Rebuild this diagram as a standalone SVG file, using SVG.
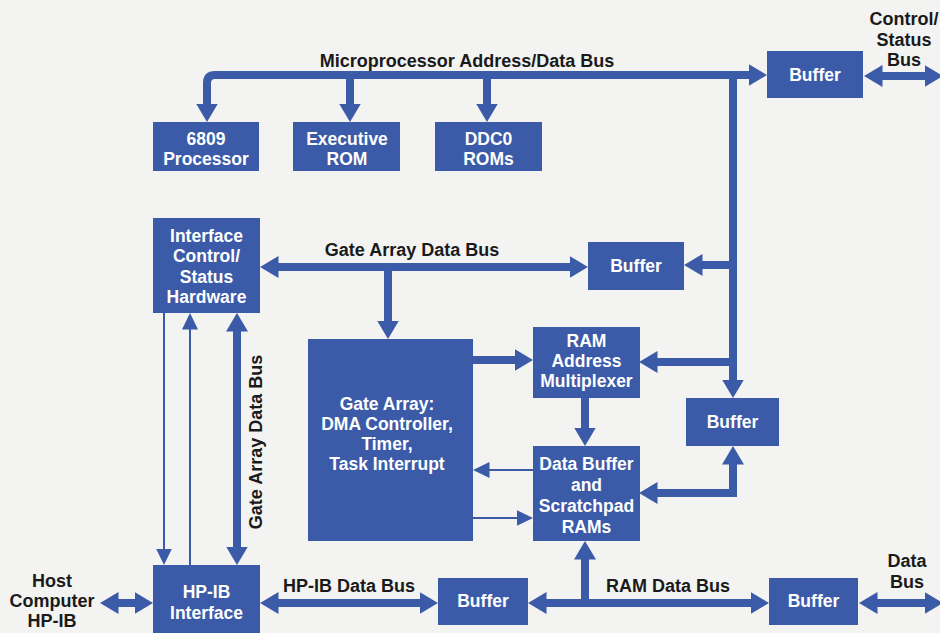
<svg xmlns="http://www.w3.org/2000/svg" width="940" height="633" viewBox="0 0 940 633">
<defs>
<marker id="ah" markerUnits="userSpaceOnUse" markerWidth="19" markerHeight="22" refX="0.5" refY="11" orient="auto-start-reverse" viewBox="0 0 19 22">
<path d="M0,0 L18.5,11 L0,22 z" fill="#3b5ba8"/>
</marker>
<marker id="as" markerUnits="userSpaceOnUse" markerWidth="17" markerHeight="16" refX="0.5" refY="8" orient="auto-start-reverse" viewBox="0 0 17 16">
<path d="M0,0 L16.5,8 L0,16 z" fill="#3b5ba8"/>
</marker>
</defs>
<style>
.box{fill:#3b5ba8}
.nt{font-family:"Liberation Sans",Arial,sans-serif;font-weight:bold;font-size:17.5px;fill:#ffffff;text-anchor:middle}
.lb{font-family:"Liberation Sans",Arial,sans-serif;font-weight:bold;font-size:18px;fill:#1a1a1a;text-anchor:middle}
.thick{fill:none;stroke:#3b5ba8;stroke-width:8;stroke-linejoin:miter}
.thin{fill:none;stroke:#3b5ba8;stroke-width:2}
.e{marker-end:url(#ah)}
.s{marker-start:url(#ah)}
.es{marker-end:url(#as)}
</style>
<rect x="0" y="0" width="940" height="633" fill="#f3f3f1"/>

<g id="connectors">
<path class="thick s e" d="M207,104 V83 Q207,75 215,75 H749"/>
<path class="thick e" d="M350,75 V104"/>
<path class="thick e" d="M487,75 V104"/>
<path class="thick e" d="M733,75 V380"/>
<path class="thick e" d="M733,265 H702"/>
<path class="thick e" d="M733,362 H657"/>
<path class="thick s e" d="M882,76 H925"/>
<path class="thick s e" d="M278,267 H570"/>
<path class="thick e" d="M388,267 V321"/>
<path class="thick e" d="M473,360 H515"/>
<path class="thick e" d="M585,398 V428"/>
<path class="thin es" d="M533,470 H489"/>
<path class="thin es" d="M473,518 H517"/>
<path class="thick s e" d="M657,493 H733 V464"/>
<path class="thin es" d="M164,313 V549"/>
<path class="thin es" d="M190,565 V329"/>
<path class="thick s e" d="M237,331 V547"/>
<path class="thick s e" d="M118,603 H135"/>
<path class="thick s e" d="M278,603 H420"/>
<path class="thick s e" d="M546,603 H751"/>
<path class="thick e" d="M585,603 V559"/>
<path class="thick s e" d="M877,603 H925"/>
</g>

<g id="labels">
<text class="lb" x="467" y="67">Microprocessor Address/Data Bus</text>
<text class="lb" x="904" y="25">Control/</text>
<text class="lb" x="904" y="45.5">Status</text>
<text class="lb" x="904" y="66">Bus</text>
<text class="lb" x="412" y="256">Gate Array Data Bus</text>
<text class="lb" transform="translate(262,442) rotate(-90)">Gate Array Data Bus</text>
<text class="lb" x="52" y="587">Host</text>
<text class="lb" x="52" y="607">Computer</text>
<text class="lb" x="52" y="627">HP-IB</text>
<text class="lb" x="349" y="592">HP-IB Data Bus</text>
<text class="lb" x="668" y="592">RAM Data Bus</text>
<text class="lb" x="907" y="567">Data</text>
<text class="lb" x="907" y="588">Bus</text>
</g>

<g id="n6809">
<rect class="box" x="153" y="122" width="106" height="49"/>
<text class="nt" x="206" y="145">6809</text>
<text class="nt" x="206" y="165">Processor</text>
</g>
<g id="nexecrom">
<rect class="box" x="293" y="122" width="107" height="49"/>
<text class="nt" x="347" y="145">Executive</text>
<text class="nt" x="347" y="165">ROM</text>
</g>
<g id="nddc0">
<rect class="box" x="435" y="122" width="107" height="49"/>
<text class="nt" x="488.5" y="145">DDC0</text>
<text class="nt" x="488.5" y="165">ROMs</text>
</g>
<g id="nbuftop">
<rect class="box" x="767" y="51" width="96" height="47"/>
<text class="nt" x="815" y="81">Buffer</text>
</g>
<g id="niface">
<rect class="box" x="153" y="218" width="107" height="95"/>
<text class="nt" x="206.5" y="242">Interface</text>
<text class="nt" x="206.5" y="262">Control/</text>
<text class="nt" x="206.5" y="283">Status</text>
<text class="nt" x="206.5" y="303">Hardware</text>
</g>
<g id="nbufgate">
<rect class="box" x="588" y="242" width="96" height="48"/>
<text class="nt" x="636" y="272">Buffer</text>
</g>
<g id="nmux">
<rect class="box" x="533" y="327" width="107" height="71"/>
<text class="nt" x="586.5" y="347">RAM</text>
<text class="nt" x="586.5" y="367">Address</text>
<text class="nt" x="586.5" y="387">Multiplexer</text>
</g>
<g id="ngate">
<rect class="box" x="308" y="339" width="165" height="202"/>
<text class="nt" x="387" y="410">Gate Array:</text>
<text class="nt" x="387" y="430">DMA Controller,</text>
<text class="nt" x="387" y="450">Timer,</text>
<text class="nt" x="387" y="470">Task Interrupt</text>
</g>
<g id="nbufright">
<rect class="box" x="686" y="398" width="93" height="48"/>
<text class="nt" x="732.5" y="428">Buffer</text>
</g>
<g id="ndatabuf">
<rect class="box" x="533" y="446" width="107" height="95"/>
<text class="nt" x="586.5" y="470">Data Buffer</text>
<text class="nt" x="586.5" y="491">and</text>
<text class="nt" x="586.5" y="512">Scratchpad</text>
<text class="nt" x="586.5" y="533">RAMs</text>
</g>
<g id="nhpib">
<rect class="box" x="153" y="565" width="107" height="75"/>
<text class="nt" x="206.5" y="598">HP-IB</text>
<text class="nt" x="206.5" y="619">Interface</text>
</g>
<g id="nbufbot">
<rect class="box" x="438" y="578" width="90" height="47"/>
<text class="nt" x="483" y="607">Buffer</text>
</g>
<g id="nbufbotright">
<rect class="box" x="769" y="578" width="89" height="47"/>
<text class="nt" x="813.5" y="607">Buffer</text>
</g>
</svg>
